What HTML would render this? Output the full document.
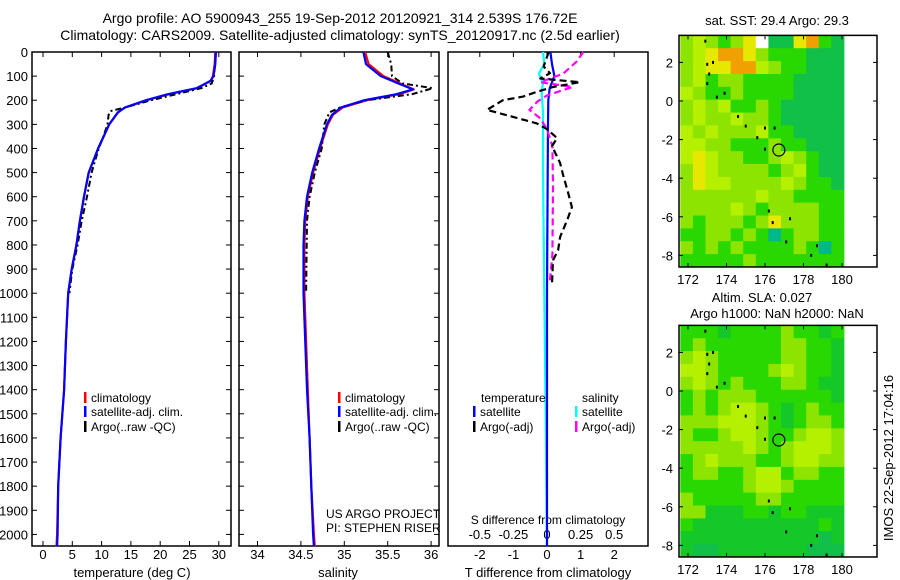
<!DOCTYPE html>
<html><head><meta charset="utf-8"><style>
body{margin:0;background:#fff;}
svg{display:block;font-family:"Liberation Sans",sans-serif;}
</style></head><body>
<svg id="fig" width="900" height="580" viewBox="0 0 900 580">
<rect width="900" height="580" fill="#fff"/>
<text x="340" y="23" font-size="14" text-anchor="middle">Argo profile: AO 5900943_255 19-Sep-2012 20120921_314 2.539S 176.72E</text>
<text x="340" y="40" font-size="14" text-anchor="middle">Climatology: CARS2009. Satellite-adjusted climatology: synTS_20120917.nc (2.5d earlier)</text>
<g id="g1"></g>
<g id="g2"></g>
<g id="g3"></g>
<g id="m1"></g>
<g id="m2"></g>
<text transform="translate(893,458) rotate(-90)" font-size="13" text-anchor="middle">IMOS 22-Sep-2012 17:04:16</text>
</svg>
<script>
// ---- profile data ----
const climTDepth=[0,50,100,120,150,175,200,230,250,300,400,500,600,700,800,900,1000,1200,1400,1600,1800,2000,2050];
const climT=[29.4,29.3,29.0,28.6,26.3,21.5,17.7,14,12.8,11.3,9.4,7.8,7.0,6.3,5.7,4.9,4.3,3.9,3.6,3.0,2.6,2.4,2.3];
const satT=[29.5,29.4,29.1,28.6,26.2,21.3,17.6,14,12.8,11.3,9.4,7.8,7.0,6.3,5.7,4.9,4.3,3.9,3.6,3.0,2.6,2.5,2.4];
const argoTDepth=[0,100,130,150,200,230,245,260,300,350,400,500,600,700,800,900,1000];
const argoT=[29.5,29.2,28.8,27,18.5,14,11.5,11.2,11.0,10.3,9.5,8.3,7.5,6.6,5.9,5.0,4.5];
const climSDepth=[0,50,100,130,155,175,200,230,260,300,400,500,600,700,800,1000,1400,1600,1800,2000,2050];
const climS=[35.24,35.28,35.45,35.64,35.8,35.63,35.26,34.98,34.87,34.81,34.72,34.64,34.58,34.55,34.54,34.54,34.58,34.6,34.62,34.65,34.66];
const satS=[35.22,35.25,35.42,35.62,35.79,35.6,35.23,34.96,34.86,34.8,34.71,34.63,34.57,34.54,34.53,34.53,34.57,34.6,34.62,34.64,34.65];
const argoSDepth=[0,50,100,130,150,175,200,230,250,300,400,500,600,700,1000];
const argoS=[35.5,35.54,35.55,35.67,36.02,35.78,35.26,34.95,34.83,34.77,34.74,34.66,34.6,34.57,34.56];
const dTArgoDepth=[0,60,88,110,125,145,165,185,200,240,269,296,320,357,390,460,510,585,643,697,767,822,863,960];
const dTArgo=[0.05,-0.1,0.09,-0.2,0.98,0.18,-0.3,-0.71,-1.31,-1.79,-1.01,-0.3,0,0.3,0.15,0.39,0.48,0.63,0.74,0.6,0.39,0.33,0.18,0.15];
const dSArgoDepth=[0,40,90,125,145,180,205,240,275,320,390,560,840,960];
const dSArgo=[0.27,0.22,0.12,-0.05,0.19,0,-0.07,-0.13,-0.05,0,0.04,0.045,0.04,0.02];
const dTSatDepth=[0,50,100,150,200,300,500,1000,1500,2050];
const dTSat=[0.1,0.15,0.22,0.08,0.04,0.03,0.02,0.0,0.0,0.0];
const dSSatDepth=[0,50,90,130,165,250,500,1000,1500,2050];
const dSSat=[-0.03,-0.02,-0.06,-0.03,-0.04,-0.03,-0.03,-0.02,-0.01,0];
const tTicks=[0,5,10,15,20,25,30];
const sTicks=[34,34.5,35,35.5,36];
const dTTicks=[-2,-1,0,1,2];
const dSTicks=[-0.5,-0.25,0,0.25,0.5];
const depthTicks=[0,100,200,300,400,500,600,700,800,900,1000,1100,1200,1300,1400,1500,1600,1700,1800,1900,2000];
// ---- map data (cell colour codes, rows north->south) ----
const sstRows=["LYLGLyWDDyOGD","LYyOOyLGGGDDD","LYyyOOYLGGDDD","LYGLLGGGGDDDD","YLGGLGGGGDDDD","LYLYGGLGDDDDD","LYLLYLLGDDDDD","YLYLLLYGGDDDD","YYLLGGGLGGDDD","YyYLLGGLYLGDD","LyYLLLLGLYGDD","LyYYLLLLYLGGD","LLLLLLYLLGGGG","LLLLYLGLLLLGG","LGLLLGLyLLLGG","GGLLGLGTGLLGG","LGLGLGGGGLGTG","GGGGGLGGGGGGG"];
const slaRows=["GGGgGGGGLGGgG","GLGGGGGGLLGGg","LYLGGGGGLLGGg","YYLGGGGLYLGGg","LYLGLGGGLLGgg","GLGLLLGGGGGGg","GLGLYYLGgGLGG","LLLYYYLGgGLLG","LGGLYYLGGLYYL","LLLLLYLGLYYYL","GLYLLLGGLYYLL","GLLGGLYYGLLGG","GGGGGLYYLGGGG","LGGGGGLLGGGGG","LLgggGGgGGggg","GggggggggggGg","gggggggggggDg","gDDgggggggDDD"];
const lonTicks=[172,174,176,178,180];
const latTicks=[2,0,-2,-4,-6,-8];
const argoLon=176.72, argoLat=-2.539;
const islands=[[172.9,3.1],[173.0,1.9],[173.3,2.0],[173.1,1.4],[173.0,0.9],[173.5,0.2],[173.9,0.4],[174.6,-0.8],[175.0,-1.3],[175.6,-1.9],[176.0,-1.4],[176.5,-1.4],[176.0,-2.5],[176.2,-5.7],[177.3,-6.1],[177.1,-7.3],[178.7,-7.5],[178.4,-8.0],[179.2,-8.5],[176.4,-6.3]];

const NS="http://www.w3.org/2000/svg";
function mk(parent,tag,attrs,name,text){const e=document.createElementNS(NS,tag);for(const k in attrs)e.setAttribute(k,attrs[k]);


if(text!==undefined)e.textContent=text;parent.appendChild(e);return e;}
const yD=d=>52+0.2412*d;
const xT=t=>43+5.86*t;
const xS=s=>257.5+86.8*(s-34);
const xdT=v=>547+33.6*v;
const xdS=v=>547+134.4*v;
const TOP=52,BOT=546;
function frame(g,x0,x1,name,yTicksOn){
 mk(g,'rect',{x:x0,y:TOP,width:x1-x0,height:BOT-TOP,fill:'none',stroke:'#000','stroke-width':1.5},name+'-frame');
 if(yTicksOn)depthTicks.forEach(d=>{const y=yD(d);
  mk(g,'line',{x1:x0,x2:x0+5,y1:y,y2:y,stroke:'#000'},'y-tick');
  mk(g,'line',{x1:x1-5,x2:x1,y1:y,y2:y,stroke:'#000'},'y-tick');});
}
function xticks(g,ticks,fx,labelY,fmt,top,bottom){ticks.forEach(t=>{const x=fx(t);
 if(bottom)mk(g,'line',{x1:x,x2:x,y1:BOT-5,y2:BOT,stroke:'#000'},'x-tick');
 if(top)mk(g,'line',{x1:x,x2:x,y1:TOP,y2:TOP+5,stroke:'#000'},'x-tick');
 if(labelY)mk(g,'text',{x:x,y:labelY,'font-size':13,'text-anchor':'middle'},'x-tick-label',fmt?fmt(t):String(t));});}
function line(g,ds,vs,fx,color,w,dash,name){const pts=ds.map((d,i)=>fx(vs[i]).toFixed(1)+','+yD(d).toFixed(1)).join(' ');
 const a={points:pts,fill:'none',stroke:color,'stroke-width':w,'stroke-linejoin':'round'};if(dash)a['stroke-dasharray']=dash;mk(g,'polyline',a,name);}
function legend(g,x,y,color,label,name){mk(g,'rect',{x:x,y:y-10,width:2.5,height:11,fill:color},name+'-swatch');
 mk(g,'text',{x:x+7,y:y,'font-size':12},name+'-label',label);}

// panel 1
const g1=document.getElementById('g1');
frame(g1,32,231,'temperature',true);
depthTicks.forEach(d=>mk(g1,'text',{x:28,y:yD(d)+5,'font-size':13,'text-anchor':'end'},'depth-tick-label',String(d)));
xticks(g1,tTicks,xT,559,null,true,true);
mk(g1,'text',{x:132,y:577,'font-size':13,'text-anchor':'middle'},'x-axis-title','temperature (deg C)');
line(g1,climTDepth,climT,xT,'#f00',2.2,null,'climatology-temperature-line');
line(g1,argoTDepth,argoT,xT,'#000',2,'6,3,2,3','argo-temperature-line');
line(g1,climTDepth,satT,xT,'#00f',2.2,null,'satellite-temperature-line');
legend(g1,84,402,'#f00','climatology','legend-climatology');
legend(g1,84,416,'#00f','satellite-adj. clim.','legend-satellite');
legend(g1,84,431,'#000','Argo(..raw -QC)','legend-argo');

// panel 2
const g2=document.getElementById('g2');
frame(g2,239,439,'salinity',true);
xticks(g2,sTicks,xS,559,null,true,true);
mk(g2,'text',{x:338,y:577,'font-size':13,'text-anchor':'middle'},'x-axis-title','salinity');
line(g2,climSDepth,climS,xS,'#f00',2.2,null,'climatology-salinity-line');
line(g2,argoSDepth,argoS,xS,'#000',2,'6,3,2,3','argo-salinity-line');
line(g2,climSDepth,satS,xS,'#00f',2.2,null,'satellite-salinity-line');
legend(g2,338,402,'#f00','climatology','legend-climatology');
legend(g2,338,416,'#00f','satellite-adj. clim.','legend-satellite');
legend(g2,338,431,'#000','Argo(..raw -QC)','legend-argo');
mk(g2,'text',{x:326,y:518,'font-size':12},'project-label','US ARGO PROJECT');
mk(g2,'text',{x:326,y:532,'font-size':12},'pi-label','PI: STEPHEN RISER');

// panel 3
const g3=document.getElementById('g3');
frame(g3,448,648,'difference',false);
xticks(g3,dTTicks,xdT,559,null,true,false);
xticks(g3,dSTicks,xdS,539,null,false,false);
mk(g3,'text',{x:548,y:524,'font-size':12,'text-anchor':'middle'},'s-axis-title','S difference from climatology');
mk(g3,'text',{x:548,y:577,'font-size':13,'text-anchor':'middle'},'x-axis-title','T difference from climatology');
line(g3,dSSatDepth,dSSat,xdS,'#0ff',2.2,null,'satellite-s-diff-line');
line(g3,dTSatDepth,dTSat,xdT,'#00f',2.2,null,'satellite-t-diff-line');
line(g3,dSArgoDepth,dSArgo,xdS,'#f0f',2.2,'7,4','argo-s-diff-line');
line(g3,dTArgoDepth,dTArgo,xdT,'#000',2.2,'7,4','argo-t-diff-line');
mk(g3,'text',{x:481,y:402,'font-size':12},'legend-temperature-header','temperature');
mk(g3,'text',{x:582,y:402,'font-size':12},'legend-salinity-header','salinity');
legend(g3,473,416,'#00f','satellite','legend-t-satellite');
legend(g3,473,431,'#000','Argo(-adj)','legend-t-argo');
legend(g3,575,416,'#0ff','satellite','legend-s-satellite');
legend(g3,575,431,'#f0f','Argo(-adj)','legend-s-argo');

// maps
const cols={L:'#8ce400',Y:'#b4f000',y:'#e6e800',O:'#f0a000',G:'#28d800',g:'#14c828',D:'#10c048',T:'#00b88c',W:'#ffffff'};
const xLon=l=>688+19.25*(l-172);
function drawMap(id,rows,lat0Y,titles){
 const g=document.getElementById(id);
 const yLat=l=>lat0Y-19.3*l;
 const top=yLat(3.4),bot=yLat(-8.6),left=679,right=877;
 const lonA=171.6,lonB=180.1,latA=3.4,latB=-8.6;
 const nr=rows.length,nc=rows[0].length;
 rows.forEach((r,i)=>{for(let j=0;j<nc;j++){
  const x=xLon(lonA+(lonB-lonA)*j/nc),x2=xLon(lonA+(lonB-lonA)*(j+1)/nc);
  const y=yLat(latA+(latB-latA)*i/nr),y2=yLat(latA+(latB-latA)*(i+1)/nr);
  mk(g,'rect',{x:x.toFixed(1),y:y.toFixed(1),width:(x2-x+0.5).toFixed(1),height:(y2-y+0.5).toFixed(1),fill:cols[r[j]]},'map-cell');}});
 islands.forEach(p=>mk(g,'rect',{x:xLon(p[0])-1,y:yLat(p[1])-1.5,width:2,height:3,fill:'#000'},'island-mark'));
 mk(g,'circle',{cx:xLon(argoLon),cy:yLat(argoLat),r:6,fill:'none',stroke:'#000','stroke-width':1.2},'argo-location-marker');
 mk(g,'rect',{x:left,y:top,width:right-left,height:bot-top,fill:'none',stroke:'#000','stroke-width':1.5},'map-frame');
 lonTicks.forEach(l=>{const x=xLon(l);
  mk(g,'line',{x1:x,x2:x,y1:top,y2:top+4,stroke:'#000'},'lon-tick');
  mk(g,'line',{x1:x,x2:x,y1:bot-4,y2:bot,stroke:'#000'},'lon-tick');
  mk(g,'text',{x:x,y:bot+17,'font-size':13,'text-anchor':'middle'},'lon-tick-label',String(l));});
 latTicks.forEach(l=>{const y=yLat(l);
  mk(g,'line',{x1:left,x2:left+4,y1:y,y2:y,stroke:'#000'},'lat-tick');
  mk(g,'line',{x1:right-4,x2:right,y1:y,y2:y,stroke:'#000'},'lat-tick');
  mk(g,'text',{x:673,y:y+5,'font-size':13,'text-anchor':'end'},'lat-tick-label',String(l));});
 titles.forEach((t,i)=>mk(g,'text',{x:t[1],y:t[0],'font-size':13,'text-anchor':'middle'},'map-title',t[2]));
}
drawMap('m1',sstRows,101,[[25,777,'sat. SST: 29.4 Argo: 29.3']]);
drawMap('m2',slaRows,391,[[302,762,'Altim. SLA: 0.027'],[318,777,'Argo h1000: NaN h2000: NaN']]);
</script>
</body></html>
